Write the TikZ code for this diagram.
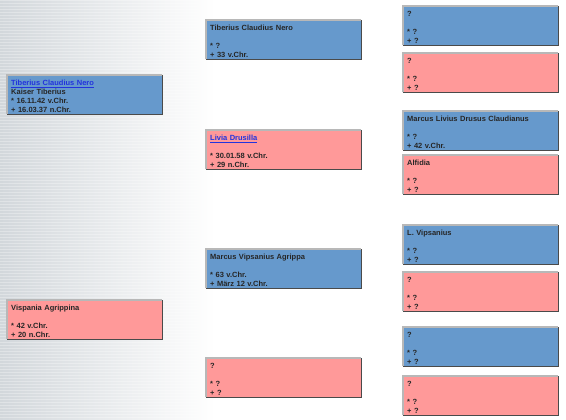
\documentclass[tikz,border=0pt]{standalone}
\usepackage{fontspec}
\setmainfont{Liberation Sans}
\definecolor{mblue}{HTML}{6699CC}
\definecolor{fpink}{HTML}{FF9999}
\definecolor{lnk}{HTML}{2233DD}
\definecolor{bgl}{HTML}{D2D7DB}
\definecolor{edgedark}{HTML}{4A4A4A}
\definecolor{edgelight}{HTML}{B8B8B8}
\tikzset{
  person/.style={anchor=north west, minimum width=155pt, minimum height=39pt, inner sep=0pt},
  male/.style={person, fill=mblue},
  female/.style={person, fill=fpink},
  ptext/.style={anchor=north west, text width=148pt, inner sep=0pt, align=left,
    font=\fontsize{7.5}{9}\selectfont\bfseries, text=black!85},
  darkedge/.style={edgedark, line width=1.6pt},
  lightedge/.style={edgelight, line width=1.4pt}
}
\newcommand{\person}[5]{%
  \node[#2] (#1) at (#3,#4) {};
  \draw[lightedge] (#1.south west) -- (#1.north west) -- (#1.north east);
  \draw[darkedge] (#1.north east) -- (#1.south east) -- (#1.south west);
  \node[ptext] (#1t) at ([xshift=4pt,yshift=-5pt]#1.north west) {#5};}
\newcommand{\lk}[1]{\textcolor{lnk}{\underline{#1}}}
\begin{document}
\begin{tikzpicture}[x=1pt,y=-1pt]
\useasboundingbox (0,0) rectangle (566,420);
\fill[white] (0,0) rectangle (566,420);
\shade[left color=bgl, right color=white] (0,0) rectangle (215,420);
\foreach \yy in {0,3,...,420} \draw[white, opacity=0.3, line width=0.8pt] (0,\yy) -- (215,\yy);

% column 1
\person{a1}{male}{7}{75}{\lk{Tiberius Claudius Nero}\\Kaiser Tiberius\\{*} 16.11.42 v.Chr.\\+ 16.03.37 n.Chr.}
\person{a2}{female}{7}{300}{Vispania Agrippina\\[9pt]{*} 42 v.Chr.\\+ 20 n.Chr.}
% column 2
\person{b1}{male}{206}{20}{Tiberius Claudius Nero\\[9pt]{*} ?\\+ 33 v.Chr.}
\person{b2}{female}{206}{130}{\lk{Livia Drusilla}\\[9pt]{*} 30.01.58 v.Chr.\\+ 29 n.Chr.}
\person{b3}{male}{206}{249}{Marcus Vipsanius Agrippa\\[9pt]{*} 63 v.Chr.\\+ März 12 v.Chr.}
\person{b4}{female}{206}{358}{?\\[9pt]{*} ?\\+ ?}
% column 3
\person{c1}{male}{403}{6}{?\\[9pt]{*} ?\\+ ?}
\person{c2}{female}{403}{53}{?\\[9pt]{*} ?\\+ ?}
\person{c3}{male}{403}{111}{Marcus Livius Drusus Claudianus\\[9pt]{*} ?\\+ 42 v.Chr.}
\person{c4}{female}{403}{155}{Alfidia\\[9pt]{*} ?\\+ ?}
\person{c5}{male}{403}{225}{L. Vipsanius\\[9pt]{*} ?\\+ ?}
\person{c6}{female}{403}{272}{?\\[9pt]{*} ?\\+ ?}
\person{c7}{male}{403}{327}{?\\[9pt]{*} ?\\+ ?}
\person{c8}{female}{403}{376}{?\\[9pt]{*} ?\\+ ?}
\end{tikzpicture}
\end{document}
